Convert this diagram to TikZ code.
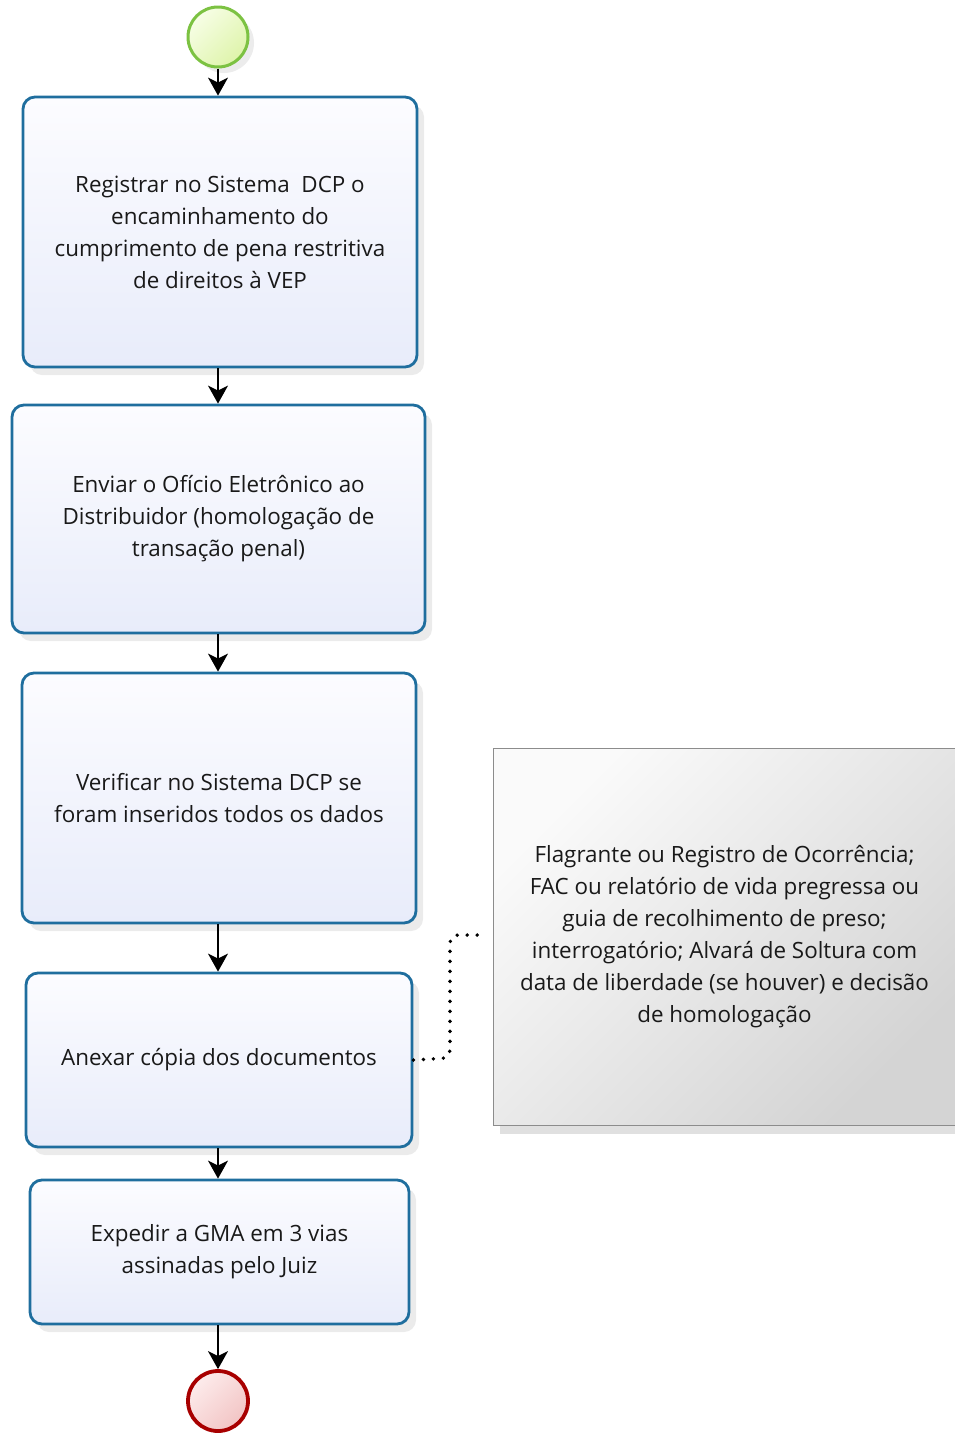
\documentclass[tikz,border=0pt]{standalone}
\usepackage{fontspec}
\setmainfont{Open Sans}
\usetikzlibrary{arrows.meta,shadows}
\definecolor{boxblue}{RGB}{31,110,158}
\definecolor{boxtop}{RGB}{252,252,255}
\definecolor{boxbot}{RGB}{232,236,250}
\definecolor{txt}{RGB}{25,25,25}
\definecolor{startline}{RGB}{124,194,66}
\definecolor{starttop}{RGB}{247,254,230}
\definecolor{startbot}{RGB}{222,244,170}
\definecolor{endline}{RGB}{168,0,0}
\definecolor{endtop}{RGB}{253,236,236}
\definecolor{endbot}{RGB}{242,196,196}
\definecolor{anntop}{RGB}{250,250,250}
\definecolor{annbot}{RGB}{212,212,212}
\definecolor{annline}{RGB}{140,140,140}
\tikzset{
  taskbox/.style={rectangle, rounded corners=12pt, draw=boxblue, line width=2.8pt,
    top color=boxtop, bottom color=boxbot, align=center, text=txt,
    font=\fontsize{22.4}{32}\selectfont, inner sep=0pt,
    drop shadow={opacity=0.16, shadow xshift=7pt, shadow yshift=-8pt}},
  flow/.style={line width=1.6pt, -{Stealth[length=18pt,width=20pt,inset=5pt]}},
  startev/.style={circle, minimum size=60pt, inner sep=0pt, draw=startline, line width=3pt,
    top color=starttop, bottom color=startbot, shading angle=45,
    drop shadow={opacity=0.15, shadow xshift=6pt, shadow yshift=-6pt}},
  endev/.style={circle, minimum size=60pt, inner sep=0pt, draw=endline, line width=3.8pt,
    top color=endtop, bottom color=endbot, shading angle=45},
  annbox/.style={rectangle, inner sep=0pt, top color=anntop, bottom color=annbot, shading angle=45,
    align=center, text=txt, font=\fontsize{22.4}{32}\selectfont},
  dotline/.style={line width=3.8pt, line cap=round, dash pattern=on 0pt off 10pt},
}
\begin{document}
\begin{tikzpicture}[x=1pt,y=-1pt]
\useasboundingbox (0,0) rectangle (955,1433);

\node[startev] (start) at (218,37) {};

\node[taskbox, minimum width=394pt, minimum height=270pt] (t1) at (220,232)
  {Registrar no Sistema\ \ DCP o\\encaminhamento do\\cumprimento de pena restritiva\\de direitos à VEP};
\node[taskbox, minimum width=413pt, minimum height=228pt] (t2) at (218.5,519)
  {Enviar o Ofício Eletrônico ao\\Distribuidor (homologação de\\transação penal)};
\node[taskbox, minimum width=394pt, minimum height=250pt] (t3) at (219,798)
  {Verificar no Sistema DCP se\\foram inseridos todos os dados};
\node[taskbox, minimum width=386pt, minimum height=174pt] (t4) at (219,1060)
  {Anexar cópia dos documentos};
\node[taskbox, minimum width=379pt, minimum height=144pt] (t5) at (219.5,1252)
  {Expedir a GMA em 3 vias\\assinadas pelo Juiz};

\node[endev] (end) at (218,1401) {};

% annotation
\fill[black, opacity=0.12] (500,1125) rectangle (955,1134);
\node[annbox, minimum width=461pt, minimum height=376pt] (ann) at (724.5,937)
  {Flagrante ou Registro de Ocorrência;\\FAC ou relatório de vida pregressa ou\\guia de recolhimento de preso;\\interrogatório; Alvará de Soltura com\\data de liberdade (se houver) e decisão\\de homologação};
\draw[annline, line width=1.3pt] (ann.north east) -- (ann.north west) -- (ann.south west) -- (ann.south east);

\coordinate (annend) at (480,935);
\draw[dotline, rounded corners=8pt] (t4.east) -- (450,1058) -- (450,935) -- (annend);

\draw[flow] (start.south) -- (t1.north -| start.south);
\draw[flow] (t1.south -| start.south) -- (t2.north -| start.south);
\draw[flow] (t2.south -| start.south) -- (t3.north -| start.south);
\draw[flow] (t3.south -| start.south) -- (t4.north -| start.south);
\draw[flow] (t4.south -| start.south) -- (t5.north -| start.south);
\draw[flow] (t5.south -| start.south) -- (end.north);
\end{tikzpicture}
\end{document}
